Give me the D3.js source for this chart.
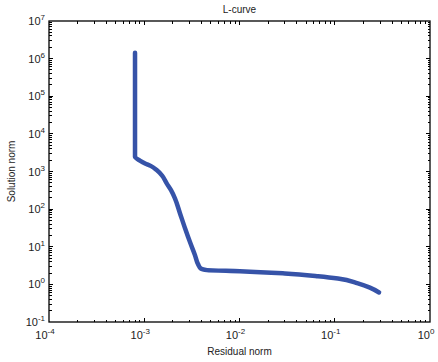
<!DOCTYPE html>
<html>
<head>
<meta charset="utf-8">
<script src="https://cdn.jsdelivr.net/npm/d3@7"></script>
<style>
  body { margin: 0; background: #fff; }
  text { font-family: "Liberation Sans", Arial, sans-serif; fill: #222; }
</style>
</head>
<body>
<div id="chart"></div>
<script>
// residual norm vs solution norm
const residual = [8.0e-4, 8.0e-4, 9.0e-4, 1.02e-3, 1.18e-3, 1.35e-3, 1.54e-3, 1.72e-3, 1.91e-3,
  2.10e-3, 2.37e-3, 2.68e-3, 3.02e-3, 3.41e-3, 3.67e-3, 3.94e-3, 4.56e-3, 1.01e-2,
  2.99e-2, 6.67e-2, 0.108, 0.175, 0.234, 0.292];
const solution = [1.44e6, 2460, 1950, 1640, 1390, 1090, 778, 483, 320,
  193, 78, 31, 13.3, 5.98, 3.44, 2.62, 2.39, 2.24,
  1.95, 1.65, 1.44, 1.06, 0.817, 0.61];
const xExps = [-4, -3, -2, -1, 0];
const yExps = [-1, 0, 1, 2, 3, 4, 5, 6, 7];

const width = 438, height = 362;
const m = {left: 49, right: 8, top: 21, bottom: 40};

const svg = d3.select('#chart').append('svg').attr('width', width).attr('height', height);

const x = d3.scaleLog().domain([1e-4, 1]).range([m.left, width - m.right]);
const y = d3.scaleLog().domain([1e-1, 1e7]).range([height - m.bottom, m.top]);

// minor tick values (2..9 within each decade)
const minor = (exps) => {
  let out = [];
  exps.slice(0, -1).forEach(e => {
    for (let k = 2; k < 10; k++) out.push(k * Math.pow(10, e));
  });
  return out;
};
const xMajor = xExps.map(e => Math.pow(10, e)), yMajor = yExps.map(e => Math.pow(10, e));
const xMinor = minor(xExps), yMinor = minor(yExps);

const x0 = m.left, x1 = width - m.right, y0 = height - m.bottom, y1 = m.top;
const g = svg.append('g').attr('stroke', '#000').attr('stroke-width', 1).attr('shape-rendering', 'crispEdges');

// ticks, all pointing inward
const tick = (vals, len) => {
  vals.forEach(v => {
    const px = x(v);
    if (px > x0 && px < x1) {
      g.append('line').attr('x1', px).attr('x2', px).attr('y1', y0).attr('y2', y0 - len);
      g.append('line').attr('x1', px).attr('x2', px).attr('y1', y1).attr('y2', y1 + len);
    }
  });
};
const ytick = (vals, len) => {
  vals.forEach(v => {
    const py = y(v);
    if (py > y1 && py < y0) {
      g.append('line').attr('y1', py).attr('y2', py).attr('x1', x0).attr('x2', x0 + len);
      g.append('line').attr('y1', py).attr('y2', py).attr('x1', x1).attr('x2', x1 - len);
    }
  });
};
tick(xMajor, 4); tick(xMinor, 2.5);
ytick(yMajor, 4); ytick(yMinor, 2.5);

// the curve (solution norm falls all the way, so interpolate x along y)
const line = d3.line()
  .x((d, i) => x(residual[i]))
  .y(d => y(d))
  .curve(d3.curveMonotoneY);

svg.append('path')
  .attr('d', line(solution))
  .attr('fill', 'none')
  .attr('stroke', '#3653a8')
  .attr('stroke-width', 4.5)
  .attr('stroke-linecap', 'round')
  .attr('stroke-linejoin', 'round');

// box
svg.append('rect')
  .attr('x', x0).attr('y', y1).attr('width', x1 - x0).attr('height', y0 - y1)
  .attr('fill', 'none').attr('stroke', '#000').attr('stroke-width', 1.3);

// tick labels: 10 with exponent
xExps.forEach(e => {
  const t = svg.append('text').attr('x', x(Math.pow(10, e)) - 4).attr('y', y0 + 17)
    .attr('text-anchor', 'middle').attr('font-size', 11);
  t.append('tspan').text('10');
  t.append('tspan').attr('dy', -5).attr('font-size', 8).text(e);
});
yExps.forEach(e => {
  const t = svg.append('text').attr('x', x0 - 4).attr('y', y(Math.pow(10, e)) + 4)
    .attr('text-anchor', 'end').attr('font-size', 11);
  t.append('tspan').text('10');
  t.append('tspan').attr('dy', -5).attr('font-size', 8).text(e);
});

svg.append('text').attr('x', (x0 + x1) / 2).attr('y', 13)
  .attr('text-anchor', 'middle').attr('font-size', 10).text('L-curve');
svg.append('text').attr('x', (x0 + x1) / 2).attr('y', 355)
  .attr('text-anchor', 'middle').attr('font-size', 10).text('Residual norm');
svg.append('text').attr('transform', `translate(15,${(y0 + y1) / 2}) rotate(-90)`)
  .attr('text-anchor', 'middle').attr('font-size', 10).text('Solution norm');
</script>
</body>
</html>
